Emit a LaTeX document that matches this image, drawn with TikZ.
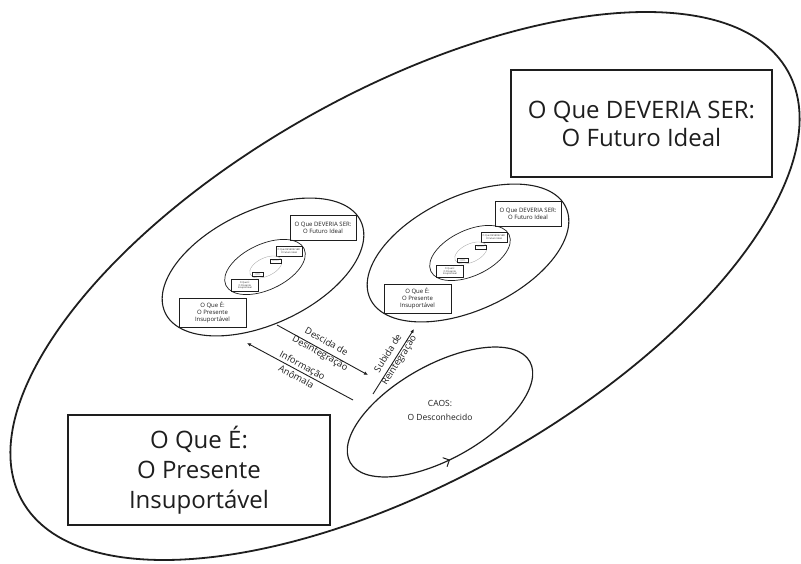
\documentclass[tikz,border=0pt]{standalone}
\usepackage{fontspec}
\setmainfont{Open Sans}
\usetikzlibrary{arrows.meta,decorations.markings}

\definecolor{ink}{HTML}{1E1E1E}

\tikzset{
  ring/.style={draw=ink},
  bigbox/.style={draw=ink, line width=1.8pt, inner sep=0pt, align=center,
    text=ink, font=\fontsize{24}{#1}\selectfont},
  smallbox/.style={draw=ink, inner sep=0pt, align=center, text=ink,
    transform shape, font=\fontsize{6}{6.9}\selectfont},
  lbl/.style={inner sep=0pt, align=center, text=ink,
    font=\fontsize{9.3}{13}\selectfont},
  conn/.style={draw=ink, line width=0.9pt, -{Latex[length=4pt,width=3.5pt]}},
}

% one level of the nested vision: goal box, present box
\newcommand\levelboxes[2]{%
  \node[smallbox, line width=#2, minimum width=66pt, minimum height=25pt]
    (#1-ideal) at (60,-39.5) {O Que DEVERIA SER:\\O Futuro Ideal};
  \node[smallbox, line width=#2, minimum width=67pt, minimum height=29pt]
    (#1-real) at (-50.5,45.5) {O Que É:\\O Presente\\Insuportável};
}

% a vision ellipse with two deeper copies of itself inside
\newcommand\vision[3]{% #1 prefix, #2 centre, #3 tilt
  \begin{scope}[shift={#2}]
    \draw[ring, line width=1.1pt, rotate=#3] (0,0) ellipse [x radius=108pt, y radius=57pt];
    \levelboxes{#1a}{0.9pt}
    \begin{scope}[shift={(2,0)}, scale=0.4]
      \draw[ring, line width=0.7pt, rotate=#3] (0,0) ellipse [x radius=108pt, y radius=57pt];
      \levelboxes{#1b}{0.6pt}
      \begin{scope}[shift={(2,0)}, scale=0.4]
        \draw[draw=gray!70, line width=0.35pt, rotate=#3] (0,0) ellipse [x radius=108pt, y radius=57pt];
        \levelboxes{#1c}{0.3pt}
      \end{scope}
    \end{scope}
  \end{scope}
}

\begin{document}
\begin{tikzpicture}[x=1pt, y=-1pt]
\useasboundingbox (0,0) rectangle (801,564);

% the whole field
\draw[ring, line width=1.8pt, rotate around={29.3:(405,286)}]
  (405,286) ellipse [x radius=439pt, y radius=195pt];

% goal and present
\node[bigbox=28, minimum width=261pt, minimum height=107pt] (ideal) at (641.5,123.5)
  {O Que DEVERIA SER:\\O Futuro Ideal};
\node[bigbox=30, minimum width=262pt, minimum height=110pt] (real) at (199,470)
  {O Que É:\\O Presente\\Insuportável};

% two smaller visions
\vision{left}{(263,267)}{25}
\vision{right}{(468,253)}{25}

% chaos
\draw[ring, line width=1.2pt, rotate around={29.3:(440,412)},
  postaction={decorate},
  decoration={markings, mark=at position 0.72 with
    {\arrow{Straight Barb[length=5pt,width=10pt,line width=1pt]}}}]
  (440,412) ellipse [x radius=103pt, y radius=47pt];
\node[lbl, font=\fontsize{8.5}{14}\selectfont] (caos) at (440,410) {CAOS:\\O Desconhecido};

% movements between the levels
\coordinate (descA) at (277,325);
\coordinate (descB) at (368,375);
\coordinate (infoA) at (353,400);
\coordinate (infoB) at (247,343);
\coordinate (subA) at (373,394);
\coordinate (subB) at (414,329);

\draw[conn] (descA) -- (descB);
\draw[conn] (infoA) -- (infoB);
\draw[conn] (subA) -- (subB);

\node[lbl, rotate=-29] (desc) at (323,348) {Descida de\\Desintegração};
\node[lbl, rotate=-28.3] (info) at (299.5,371) {Informação\\Anômala};
\node[lbl, rotate=57.8] (sub) at (394,357) {Subida de\\Reintegração};
\end{tikzpicture}
\end{document}
